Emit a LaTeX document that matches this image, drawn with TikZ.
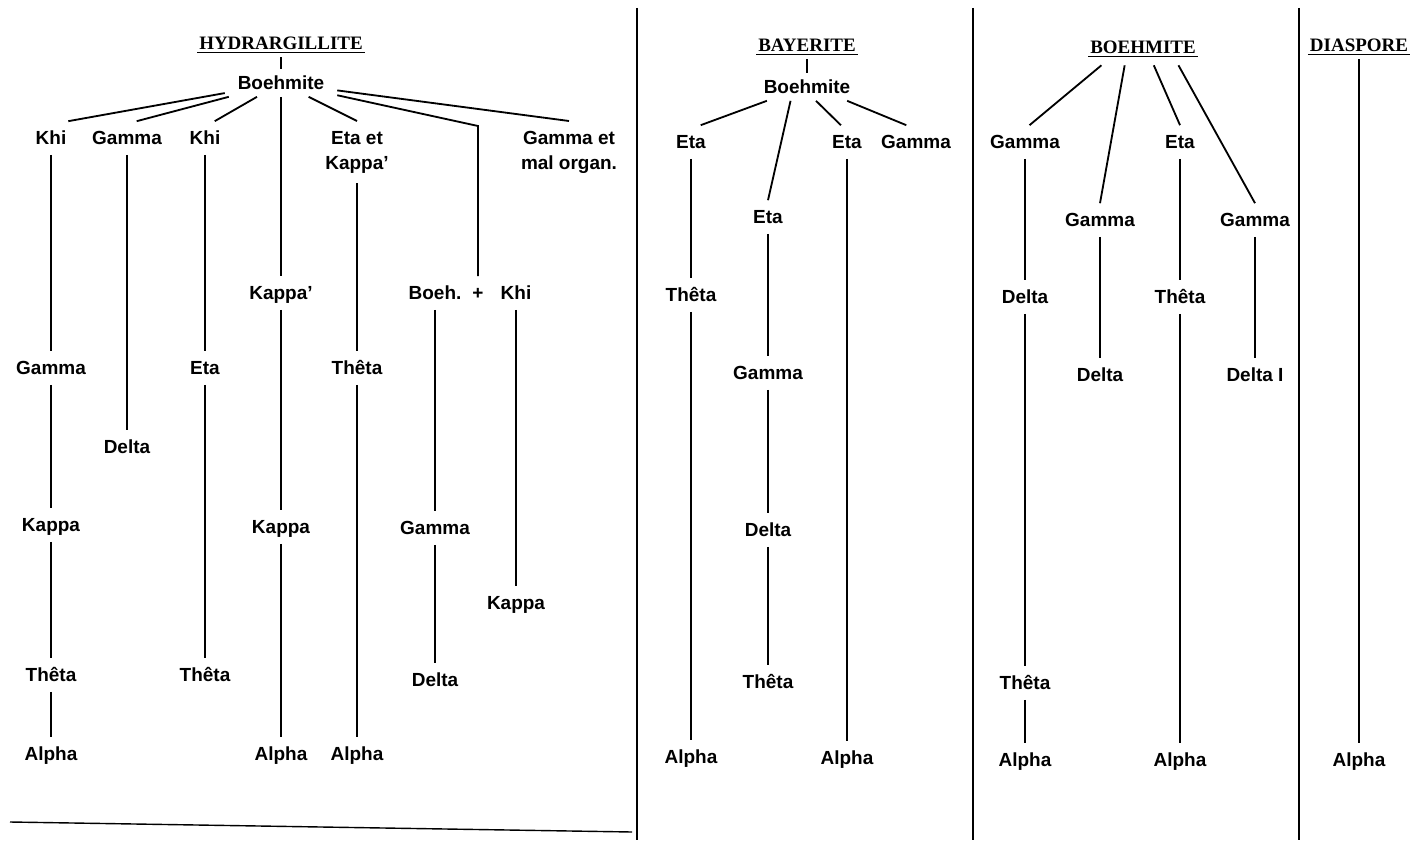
\documentclass[tikz,border=0pt]{standalone}
\usepackage{fontspec}
\setmainfont{Liberation Sans}
\newfontfamily\titlefont{Liberation Serif}
\tikzset{
  lbl/.style={
    font=\fontsize{13.5}{17.8}\selectfont\bfseries,
    inner sep=0pt,
    outer xsep=0.05cm,
    outer ysep=0.25cm
  },
  mineral/.style={
    lbl,
    text height=9.7pt,
    text depth=0pt
  },
  twoline/.style={
    lbl,
    align=center,
    anchor=north
  },
  parent/.style={
    mineral,
    outer xsep=0.325cm,
    outer ysep=0.175cm
  },
  heading/.style={
    font=\titlefont\fontsize{13.5}{17}\selectfont\bfseries,
    inner sep=0pt,
    outer xsep=0.05cm,
    outer ysep=0.2cm,
    text height=9pt,
    text depth=0pt
  },
  link/.style={line width=1.3pt},
  rule/.style={line width=1.5pt},
  uline/.style={line width=1.2pt}
}

\begin{document}
\begin{tikzpicture}[x=0.025cm, y=-0.025cm]
\fill[white] (0,0) rectangle (1411,846);
\useasboundingbox (0,0) rectangle (1411,846);

% section dividers
\draw[rule] (637,8) -- (637,840);
\draw[rule] (973,8) -- (973,840);
\draw[rule] (1299,8) -- (1299,840);
\draw[line width=1pt] (10,822) -- (632,832);

% Hydrargillite
\node[heading] (htitle) at (281,43) {HYDRARGILLITE};
\node[parent] (hboeh) at (281,83) {Boehmite};
\node[mineral] (hkhiA) at (51,138) {Khi};
\node[mineral] (hgamB) at (127,138) {Gamma};
\node[mineral] (hkhiC) at (205,138) {Khi};
\node[mineral] (hkapD) at (281,293) {Kappa'};
\node[twoline] (hetaE) at (357,121) {Eta et\\Kappa'};
\node[mineral] (hboehF) at (435,293) {Boeh.};
\node[mineral] (hplus) at (478,293) {+};
\node[mineral] (hkhiG) at (516,293) {Khi};
\node[twoline] (hgamH) at (569,121) {Gamma et\\mal organ.};
\coordinate (hbend) at (478,126);

\node[mineral] (hgamA) at (51,368) {Gamma};
\node[mineral] (hkapA) at (51,525) {Kappa};
\node[mineral] (hthetA) at (51,675) {Thêta};
\node[mineral] (halpA) at (51,754) {Alpha};
\node[mineral] (hdelB) at (127,447) {Delta};
\node[mineral] (hetaC) at (205,368) {Eta};
\node[mineral] (hthetC) at (205,675) {Thêta};
\node[mineral] (hkapD2) at (281,527) {Kappa};
\node[mineral] (halpD) at (281,754) {Alpha};
\node[mineral] (hthetE) at (357,368) {Thêta};
\node[mineral] (halpE) at (357,754) {Alpha};
\node[mineral] (hgamF) at (435,528) {Gamma};
\node[mineral] (hdelF) at (435,680) {Delta};
\node[mineral] (hkapG) at (516,603) {Kappa};

\draw[link] (htitle) -- (hboeh);
\draw[link] (hboeh) -- (hkhiA.north east);
\draw[link] (hboeh) -- (hgamB.60);
\draw[link] (hboeh) -- (hkhiC.60);
\draw[link] (hboeh) -- (hkapD);
\draw[link] (hboeh) -- (hetaE.north);
\draw[link] (hboeh) -- (hbend) -- (hplus);
\draw[link] (hboeh) -- (hgamH.north);
\draw[link] (hkhiA) -- (hgamA) (hgamA) -- (hkapA) (hkapA) -- (hthetA) (hthetA) -- (halpA);
\draw[link] (hgamB) -- (hdelB);
\draw[link] (hkhiC) -- (hetaC) (hetaC) -- (hthetC);
\draw[link] (hkapD) -- (hkapD2) (hkapD2) -- (halpD);
\draw[link] (hetaE) -- (hthetE) (hthetE) -- (halpE);
\draw[link] (hboehF) -- (hgamF) (hgamF) -- (hdelF);
\draw[link] (hkhiG) -- (hkapG);

% Bayerite
\node[heading] (btitle) at (807,45) {BAYERITE};
\node[parent] (bboeh) at (807,87) {Boehmite};
\node[mineral] (betaA) at (691,142) {Eta};
\node[mineral] (bthetA) at (691,295) {Thêta};
\node[mineral] (balpA) at (691,757) {Alpha};
\node[mineral] (betaB) at (768,217) {Eta};
\node[mineral] (bgamB) at (768,373) {Gamma};
\node[mineral] (bdelB) at (768,530) {Delta};
\node[mineral] (bthetB) at (768,682) {Thêta};
\node[mineral] (betaC) at (847,142) {Eta};
\node[mineral] (balpC) at (847,758) {Alpha};
\node[mineral] (bgamD) at (916,142) {Gamma};

\draw[link] (btitle) -- (bboeh);
\draw[link] (bboeh.199) -- (betaA.60);
\draw[link] (bboeh.220) -- (betaB.north);
\draw[link] (bboeh.303) -- (betaC.110);
\draw[link] (bboeh.341) -- (bgamD.120);
\draw[link] (betaA) -- (bthetA) (bthetA) -- (balpA);
\draw[link] (betaB) -- (bgamB) (bgamB) -- (bdelB) (bdelB) -- (bthetB);
\draw[link] (betaC) -- (balpC);

% Boehmite
\node[heading] (otitle) at (1143,47) {BOEHMITE};
\node[mineral] (ogamA) at (1025,142) {Gamma};
\node[mineral] (odelA) at (1025,297) {Delta};
\node[mineral] (othetA) at (1025,683) {Thêta};
\node[mineral] (oalpA) at (1025,760) {Alpha};
\node[mineral] (ogamB) at (1100,220) {Gamma};
\node[mineral] (odelB) at (1100,375) {Delta};
\node[mineral] (oetaC) at (1180,142) {Eta};
\node[mineral] (othetC) at (1180,297) {Thêta};
\node[mineral] (oalpC) at (1180,760) {Alpha};
\node[mineral] (ogamD) at (1255,220) {Gamma};
\node[mineral] (odelD) at (1255,375) {Delta I};

\draw[link] ([yshift=-0.1cm]otitle.199) -- (ogamA.75);
\draw[link] ([yshift=-0.1cm]otitle.218) -- (ogamB.north);
\draw[link] ([yshift=-0.1cm]otitle.307) -- (oetaC.north);
\draw[link] ([yshift=-0.1cm]otitle.338) -- (ogamD.north);
\draw[link] (ogamA) -- (odelA) (odelA) -- (othetA) (othetA) -- (oalpA);
\draw[link] (ogamB) -- (odelB);
\draw[link] (oetaC) -- (othetC) (othetC) -- (oalpC);
\draw[link] (ogamD) -- (odelD);

% Diaspore
\node[heading] (dtitle) at (1359,45) {DIASPORE};
\node[mineral] (dalp) at (1359,760) {Alpha};
\draw[link] (dtitle) -- (dalp);

% underlined headings
\foreach \t in {htitle,btitle,otitle,dtitle}
  \draw[uline] ([yshift=-0.08cm]\t.base west) -- ([yshift=-0.08cm]\t.base east);
\end{tikzpicture}
\end{document}
